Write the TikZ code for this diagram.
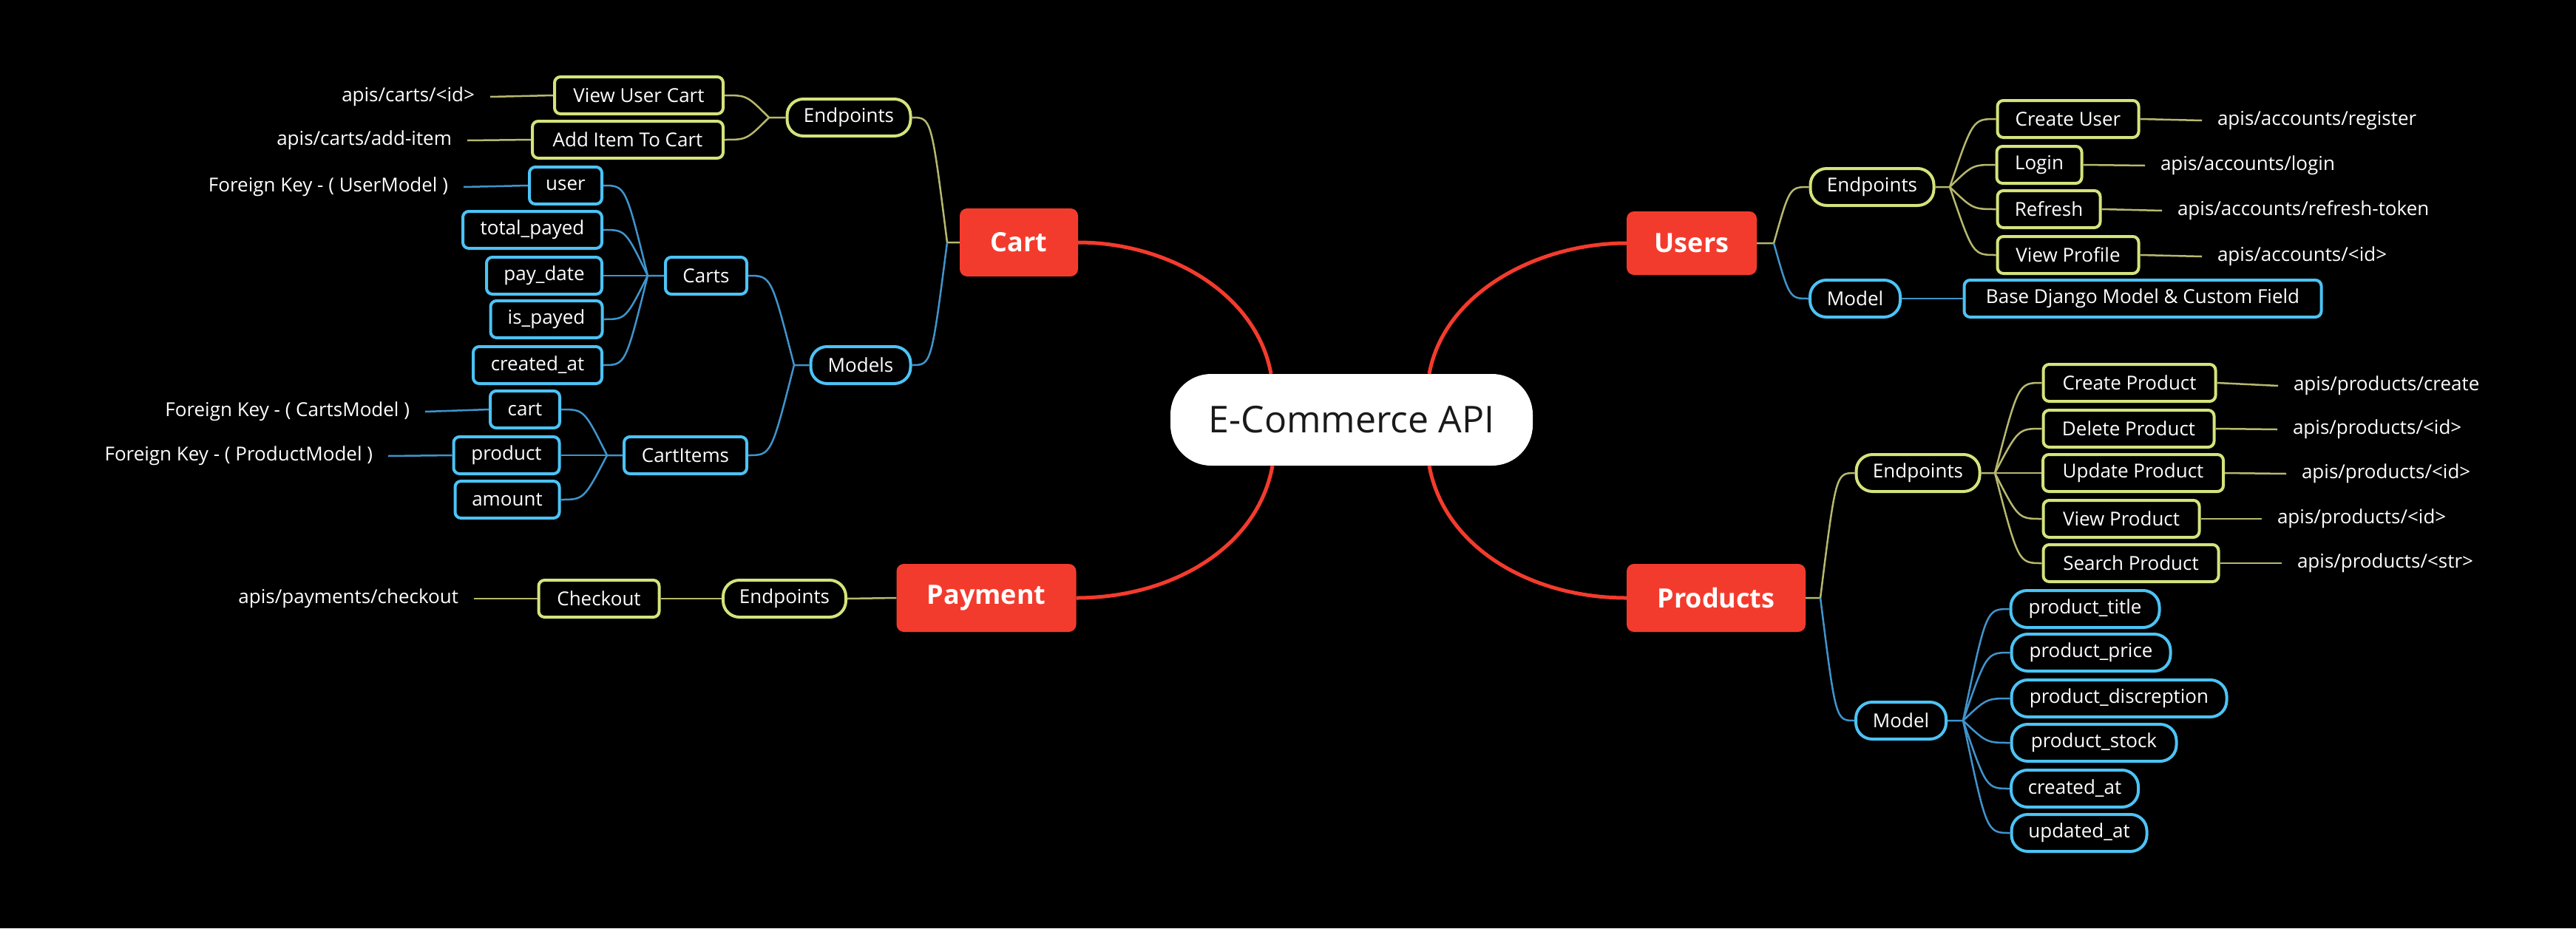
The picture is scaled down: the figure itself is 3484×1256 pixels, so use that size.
\documentclass[tikz,border=0pt]{standalone}
\usepackage{fontspec}
\usetikzlibrary{calc}
\setmainfont{Open Sans}
\definecolor{mred}{HTML}{F33B2D}
\definecolor{ybord}{HTML}{D5E37C}
\definecolor{bbord}{HTML}{4CC3F5}
\definecolor{ylin}{HTML}{B7B86E}
\definecolor{blin}{HTML}{3F94CC}
\definecolor{rootink}{HTML}{1A1A1A}
\begin{document}
\begin{tikzpicture}[x=1pt,y=-1pt,
  every node/.style={font=\fontsize{26}{31}\selectfont, text=white, inner sep=0pt},
  base/.style={draw, line width=4pt, fill=black, minimum height=50pt, align=center},
  ybox/.style={base, draw=ybord, rounded corners=8pt},
  bbox/.style={base, draw=bbord, rounded corners=8pt},
  ypill/.style={base, draw=ybord, rounded corners=22pt},
  bpill/.style={base, draw=bbord, rounded corners=22pt},
  mainbox/.style={fill=mred, rounded corners=10pt, minimum height=92pt, font=\fontsize{36}{42}\selectfont\bfseries},
  rootbox/.style={fill=white, rounded corners=55pt, minimum width=490pt, minimum height=124pt, text=rootink, font=\fontsize{50}{58}\selectfont},
  leafL/.style={anchor=east, outer xsep=21pt},
  leafR/.style={anchor=west, outer xsep=21pt},
  ylink/.style={draw=ylin, line width=2.5pt},
  blink/.style={draw=blin, line width=2.5pt},
  rlink/.style={draw=mred, line width=5pt},
]
\fill[black] (0,0) rectangle (3484,1256);
\useasboundingbox (0,0) rectangle (3484,1256);

% ---------- root and main branches ----------
\node[rootbox] (root) at (1828,568) {E-Commerce API};
\node[mainbox, minimum width=160pt] (cart) at (1378,328) {Cart};
\node[mainbox, minimum width=176pt, minimum height=86pt] (users) at (2288,329) {Users};
\node[mainbox, minimum width=243pt] (payment) at (1334,809) {Payment};
\node[mainbox, minimum width=242pt] (products) at (2321,809) {Products};

\draw[rlink] (cart.east) .. controls +(120,0) and +(-20,-110) .. ([xshift=-109pt]root.north);
\draw[rlink] (users.west) .. controls +(-120,0) and +(20,-110) .. ([xshift=105pt]root.north);
\draw[rlink] (payment.east) .. controls +(130,0) and +(-20,110) .. ([xshift=-107pt]root.south);
\draw[rlink] (products.west) .. controls +(-130,0) and +(20,110) .. ([xshift=105pt]root.south);

% ---------- Cart ----------
\node[ypill, minimum width=167pt] (cEP) at (1148,159) {Endpoints};
\node[ybox, minimum width=228pt] (cVUC) at (864,129) {View User Cart};
\node[ybox, minimum width=258pt] (cAIC) at (849,189) {Add Item To Cart};
\node[leafL] (tVUC) at (663,131) {apis/carts/<id>};
\node[leafL] (tAIC) at (632,190) {apis/carts/add-item};

\node[bpill, minimum width=135pt] (cMod) at (1164,494) {Models};
\node[bbox, minimum width=110pt] (cCarts) at (955,373) {Carts};
\node[bbox, minimum width=98pt] (fUser) at (765,251) {user};
\node[bbox, minimum width=188pt] (fTot) at (720,311) {total\_payed};
\node[bbox, minimum width=156pt] (fPay) at (736,373) {pay\_date};
\node[bbox, minimum width=151pt] (fIs) at (739,432) {is\_payed};
\node[bbox, minimum width=174pt] (fCre) at (727,494) {created\_at};
\node[leafL] (tUser) at (627,253) {Foreign Key - ( UserModel )};

\node[bbox, minimum width=166pt] (cItems) at (927,616) {CartItems};
\node[bbox, minimum width=94pt] (iCart) at (710,554) {cart};
\node[bbox, minimum width=143pt] (iProd) at (685,616) {product};
\node[bbox, minimum width=141pt] (iAmt) at (686,676) {amount};
\node[leafL] (tCart) at (575,557) {Foreign Key - ( CartsModel )};
\node[leafL] (tProd) at (525,617) {Foreign Key - ( ProductModel )};

\coordinate (jC) at (1281,328);
\coordinate (jCE) at (1040,159);
\coordinate (jCM) at (1074,494);
\coordinate (jCa) at (876,373);
\coordinate (jCI) at (821,616);

\draw[ylink] (cart.west) -- (jC) .. controls ($(jC |- cEP.east)!0.45!(cEP.east)$) .. (cEP.east);
\draw[blink] (jC) .. controls ($(jC |- cMod.east)!0.45!(cMod.east)$) .. (cMod.east);
\draw[ylink] (cEP.west) -- (jCE) .. controls ($(jCE |- cVUC.east)!0.5!(cVUC.east)$) .. (cVUC.east);
\draw[ylink] (jCE) .. controls ($(jCE |- cAIC.east)!0.5!(cAIC.east)$) .. (cAIC.east);
\draw[ylink] (cVUC.west) -- (tVUC.east);
\draw[ylink] (cAIC.west) -- (tAIC.east);
\draw[blink] (cMod.west) -- (jCM) .. controls ($(jCM |- cCarts.east)!0.5!(cCarts.east)$) .. (cCarts.east);
\draw[blink] (jCM) .. controls ($(jCM |- cItems.east)!0.5!(cItems.east)$) .. (cItems.east);
\draw[blink] (cCarts.west) -- (jCa) .. controls ($(jCa |- fUser.east)!0.5!(fUser.east)$) .. (fUser.east);
\draw[blink] (jCa) .. controls ($(jCa |- fTot.east)!0.5!(fTot.east)$) .. (fTot.east);
\draw[blink] (jCa) -- (fPay.east);
\draw[blink] (jCa) .. controls ($(jCa |- fIs.east)!0.5!(fIs.east)$) .. (fIs.east);
\draw[blink] (jCa) .. controls ($(jCa |- fCre.east)!0.5!(fCre.east)$) .. (fCre.east);
\draw[blink] (fUser.west) -- (tUser.east);
\draw[blink] (cItems.west) -- (jCI) .. controls ($(jCI |- iCart.east)!0.5!(iCart.east)$) .. (iCart.east);
\draw[blink] (jCI) -- (iProd.east);
\draw[blink] (jCI) .. controls ($(jCI |- iAmt.east)!0.5!(iAmt.east)$) .. (iAmt.east);
\draw[blink] (iCart.west) -- (tCart.east);
\draw[blink] (iProd.west) -- (tProd.east);

% ---------- Payment ----------
\node[ypill, minimum width=166pt] (pEP) at (1061,810) {Endpoints};
\node[ybox, minimum width=163pt] (pChk) at (810,810) {Checkout};
\node[leafL] (tChk) at (641,810) {apis/payments/checkout};
\draw[ylink] (payment.west) -- (pEP.east);
\draw[ylink] (pEP.west) -- (pChk.east);
\draw[ylink] (pChk.west) -- (tChk.east);

% ---------- Users ----------
\node[ypill, minimum width=167pt] (uEP) at (2532,253) {Endpoints};
\node[bpill, minimum width=122pt] (uMod) at (2509,404) {Model};
\node[ybox, minimum width=191pt] (uCre) at (2797,161) {Create User};
\node[ybox, minimum width=115pt] (uLog) at (2758,223) {Login};
\node[ybox, minimum width=139pt] (uRef) at (2771,283) {Refresh};
\node[ybox, minimum width=191pt] (uVP) at (2797,345) {View Profile};
\node[bbox, minimum width=483pt] (uBase) at (2898,404) {Base Django Model \& Custom Field};
\node[leafR] (tCre) at (2978,163) {apis/accounts/register};
\node[leafR] (tLog) at (2901,224) {apis/accounts/login};
\node[leafR] (tRef) at (2924,285) {apis/accounts/refresh-token};
\node[leafR] (tVP) at (2978,347) {apis/accounts/<id>};

\coordinate (jU) at (2399,329);
\coordinate (jUE) at (2637,253);
\draw[ylink] (users.east) -- (jU) .. controls ($(jU |- uEP.west)!0.45!(uEP.west)$) .. (uEP.west);
\draw[blink] (jU) .. controls ($(jU |- uMod.west)!0.45!(uMod.west)$) .. (uMod.west);
\draw[ylink] (uEP.east) -- (jUE) .. controls ($(jUE |- uCre.west)!0.5!(uCre.west)$) .. (uCre.west);
\draw[ylink] (jUE) .. controls ($(jUE |- uLog.west)!0.5!(uLog.west)$) .. (uLog.west);
\draw[ylink] (jUE) .. controls ($(jUE |- uRef.west)!0.5!(uRef.west)$) .. (uRef.west);
\draw[ylink] (jUE) .. controls ($(jUE |- uVP.west)!0.5!(uVP.west)$) .. (uVP.west);
\draw[blink] (uMod.east) -- (uBase.west);
\draw[ylink] (uCre.east) -- (tCre.west);
\draw[ylink] (uLog.east) -- (tLog.west);
\draw[ylink] (uRef.east) -- (tRef.west);
\draw[ylink] (uVP.east) -- (tVP.west);

% ---------- Products ----------
\node[ypill, minimum width=167pt] (prEP) at (2594,640) {Endpoints};
\node[bpill, minimum width=122pt] (prMod) at (2571,975) {Model};
\node[ybox, minimum width=233pt] (eCre) at (2880,518) {Create Product};
\node[ybox, minimum width=231pt] (eDel) at (2879,580) {Delete Product};
\node[ybox, minimum width=244pt] (eUpd) at (2885,640) {Update Product};
\node[ybox, minimum width=211pt] (eView) at (2869,702) {View Product};
\node[ybox, minimum width=237pt] (eSea) at (2882,762) {Search Product};
\node[leafR] (tECre) at (3081,522) {apis/products/create};
\node[leafR] (tEDel) at (3080,581) {apis/products/<id>};
\node[leafR] (tEUpd) at (3092,641) {apis/products/<id>};
\node[leafR] (tEView) at (3059,702) {apis/products/<id>};
\node[leafR] (tESea) at (3086,762) {apis/products/<str>};

\node[bpill, minimum width=201pt] (mTit) at (2820,824) {product\_title};
\node[bpill, minimum width=215pt] (mPri) at (2828,883) {product\_price};
\node[bpill, minimum width=291pt] (mDis) at (2866,945) {product\_discreption};
\node[bpill, minimum width=223pt] (mSto) at (2832,1005) {product\_stock};
\node[bpill, minimum width=172pt] (mCre) at (2806,1067) {created\_at};
\node[bpill, minimum width=183pt] (mUpd) at (2812,1127) {updated\_at};

\coordinate (jP) at (2462,809);
\coordinate (jPE) at (2698,640);
\coordinate (jPM) at (2655,975);
\draw[ylink] (products.east) -- (jP) .. controls ($(jP |- prEP.west)!0.45!(prEP.west)$) .. (prEP.west);
\draw[blink] (jP) .. controls ($(jP |- prMod.west)!0.45!(prMod.west)$) .. (prMod.west);
\draw[ylink] (prEP.east) -- (jPE) .. controls ($(jPE |- eCre.west)!0.5!(eCre.west)$) .. (eCre.west);
\draw[ylink] (jPE) .. controls ($(jPE |- eDel.west)!0.5!(eDel.west)$) .. (eDel.west);
\draw[ylink] (jPE) -- (eUpd.west);
\draw[ylink] (jPE) .. controls ($(jPE |- eView.west)!0.5!(eView.west)$) .. (eView.west);
\draw[ylink] (jPE) .. controls ($(jPE |- eSea.west)!0.5!(eSea.west)$) .. (eSea.west);
\draw[ylink] (eCre.east) -- (tECre.west);
\draw[ylink] (eDel.east) -- (tEDel.west);
\draw[ylink] (eUpd.east) -- (tEUpd.west);
\draw[ylink] (eView.east) -- (tEView.west);
\draw[ylink] (eSea.east) -- (tESea.west);
\draw[blink] (prMod.east) -- (jPM) .. controls ($(jPM |- mTit.west)!0.5!(mTit.west)$) .. (mTit.west);
\draw[blink] (jPM) .. controls ($(jPM |- mPri.west)!0.5!(mPri.west)$) .. (mPri.west);
\draw[blink] (jPM) .. controls ($(jPM |- mDis.west)!0.5!(mDis.west)$) .. (mDis.west);
\draw[blink] (jPM) .. controls ($(jPM |- mSto.west)!0.5!(mSto.west)$) .. (mSto.west);
\draw[blink] (jPM) .. controls ($(jPM |- mCre.west)!0.5!(mCre.west)$) .. (mCre.west);
\draw[blink] (jPM) .. controls ($(jPM |- mUpd.west)!0.5!(mUpd.west)$) .. (mUpd.west);
\end{tikzpicture}
\end{document}
